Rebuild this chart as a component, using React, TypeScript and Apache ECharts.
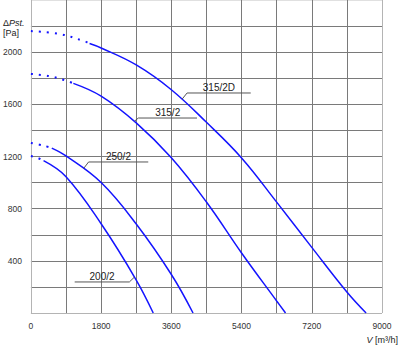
import React, { useEffect, useRef } from "react";
import * as echarts from "echarts";

// Axis ranges and ticks
const X_MAX = 9000;
const X_STEP = 900;
const X_LABEL_STEP = 1800;
const Y_MAX = 2400;
const Y_STEP = 200;
const Y_LABEL_STEP = 400;

// Curves (V [m3/h], dPst [Pa]) - dotted (unstable region) + solid parts
const c315_2D_dotted = [[0, 2162], [740, 2139], [1351, 2086], [1504, 2066]];
const c315_2D_solid = [[1504, 2066], [1800, 2032], [2700, 1902], [3600, 1712], [4500, 1462], [5400, 1189], [6300, 850], [7200, 503], [8100, 161], [8592, 0]];

const c315_2_dotted = [[0, 1833], [459, 1817], [867, 1785], [1088, 1761]];
const c315_2_solid = [[1088, 1761], [1800, 1663], [2700, 1458], [3600, 1190], [4500, 851], [5400, 460], [6300, 92], [6527, 0]];

const c250_2_dotted = [[0, 1304], [221, 1290], [451, 1273], [535, 1264]];
const c250_2_solid = [[535, 1264], [900, 1204], [1800, 1000], [2700, 682], [3600, 295], [4156, 0]];

const c200_2_dotted = [[0, 1204], [170, 1190], [324, 1168]];
const c200_2_solid = [[324, 1168], [900, 1045], [1800, 684], [2700, 253], [3136, 0]];

// Curve labels with leader lines (data coordinates)
const labelNames = ["315/2D", "315/2", "250/2", "200/2"];
const labelAnchors = [[3876, 1640], [2652, 1470], [1351, 1108], [2652, 275]];
const labelElbows = [[4003, 1687], [2754, 1495], [1479, 1158], [2524, 238]];
const labelLineEnds = [5635, 4258, 3008, 1122];

const FONT = "'Liberation Sans', Arial, sans-serif";
const CURVE_COLOR = "#1414ff";

export default function App() {
  const ref = useRef<HTMLDivElement>(null);

  useEffect(() => {
    if (!ref.current) return;
    const chart = echarts.init(ref.current, null, { renderer: "svg" });

    const dotted = (data: number[][]) => ({
      type: "line",
      data,
      smooth: 0.4,
      showSymbol: false,
      silent: true,
      lineStyle: { color: CURVE_COLOR, width: 2, type: [2, 6] },
    });
    const solid = (data: number[][]) => ({
      type: "line",
      data,
      smooth: 0.4,
      showSymbol: false,
      silent: true,
      lineStyle: { color: CURVE_COLOR, width: 1.5 },
    });

    const xLineColors: string[] = [];
    for (let v = 0; v <= X_MAX; v += X_STEP) xLineColors.push(v === 0 || v === X_MAX ? "#b4b4b4" : "#7a7a7a");
    const yLineColors: string[] = [];
    for (let v = 0; v <= Y_MAX; v += Y_STEP) yLineColors.push(v === 0 ? "#b4b4b4" : v === Y_MAX ? "#e0e0e0" : "#7a7a7a");

    chart.setOption({
      animation: false,
      grid: { left: 29, right: 18, top: 0, bottom: 34 },
      xAxis: {
        type: "value",
        min: 0,
        max: X_MAX,
        interval: X_STEP,
        axisLine: { show: false },
        axisTick: { show: false },
        splitLine: { show: true, lineStyle: { color: xLineColors, width: 1 } },
        axisLabel: {
          margin: 8,
          fontFamily: FONT,
          fontSize: 8.5,
          color: "#333",
          formatter: (v: number) => (v % X_LABEL_STEP === 0 ? String(v) : ""),
        },
      },
      yAxis: {
        type: "value",
        min: 0,
        max: Y_MAX,
        interval: Y_STEP,
        axisLine: { show: false },
        axisTick: { show: false },
        splitLine: { show: true, lineStyle: { color: yLineColors, width: 1 } },
        axisLabel: {
          margin: 9,
          fontFamily: FONT,
          fontSize: 8.5,
          color: "#333",
          formatter: (v: number) => (v % Y_LABEL_STEP === 0 && v > 0 && v < Y_MAX ? String(v) : ""),
        },
      },
      series: [
        dotted(c315_2D_dotted),
        solid(c315_2D_solid),
        dotted(c315_2_dotted),
        solid(c315_2_solid),
        dotted(c250_2_dotted),
        solid(c250_2_solid),
        dotted(c200_2_dotted),
        solid(c200_2_solid),
      ],
    });

    const toPx = (p: number[]) => chart.convertToPixel({ gridIndex: 0 }, p) as number[];
    const graphics: any[] = [];
    labelNames.forEach((name, i) => {
      const a = toPx(labelAnchors[i]);
      const e = toPx(labelElbows[i]);
      const endX = toPx([labelLineEnds[i], labelElbows[i][1]])[0];
      graphics.push({
        type: "polyline",
        silent: true,
        shape: { points: [a, e, [endX, e[1]]] },
        style: { stroke: "#555", lineWidth: 1, fill: "none" },
        z: 10,
      });
      graphics.push({
        type: "text",
        silent: true,
        x: (e[0] + endX) / 2,
        y: e[1] - 5.5,
        style: {
          text: name,
          fontFamily: FONT,
          fontSize: 10,
          fill: "#222",
          align: "center",
          verticalAlign: "middle",
        },
        z: 11,
      });
    });
    // Axis titles
    graphics.push({
      type: "text",
      silent: true,
      x: 3,
      y: 23,
      style: {
        text: "{d|Δ}{i|Pst.}",
        align: "left",
        verticalAlign: "middle",
        fill: "#222",
        rich: {
          d: { fontFamily: FONT, fontSize: 9, fill: "#222" },
          i: { fontFamily: FONT, fontSize: 9, fontStyle: "italic", fill: "#222" },
        },
      },
    });
    graphics.push({
      type: "text",
      silent: true,
      x: 3,
      y: 33,
      style: { text: "[Pa]", fontFamily: FONT, fontSize: 9, fill: "#222", align: "left", verticalAlign: "middle" },
    });
    graphics.push({
      type: "text",
      silent: true,
      x: 398,
      y: 340,
      style: {
        text: "{i|V} [m³/h]",
        align: "right",
        verticalAlign: "middle",
        fontFamily: FONT,
        fontSize: 9,
        fill: "#222",
        rich: {
          i: { fontFamily: FONT, fontSize: 9, fontStyle: "italic", fill: "#222" },
        },
      },
    });
    chart.setOption({ graphic: graphics });

    return () => chart.dispose();
  }, []);

  return (
    <div
      ref={ref}
      style={{ position: "absolute", left: 0, top: 0, width: 400, height: 347, background: "#fff" }}
    />
  );
}
